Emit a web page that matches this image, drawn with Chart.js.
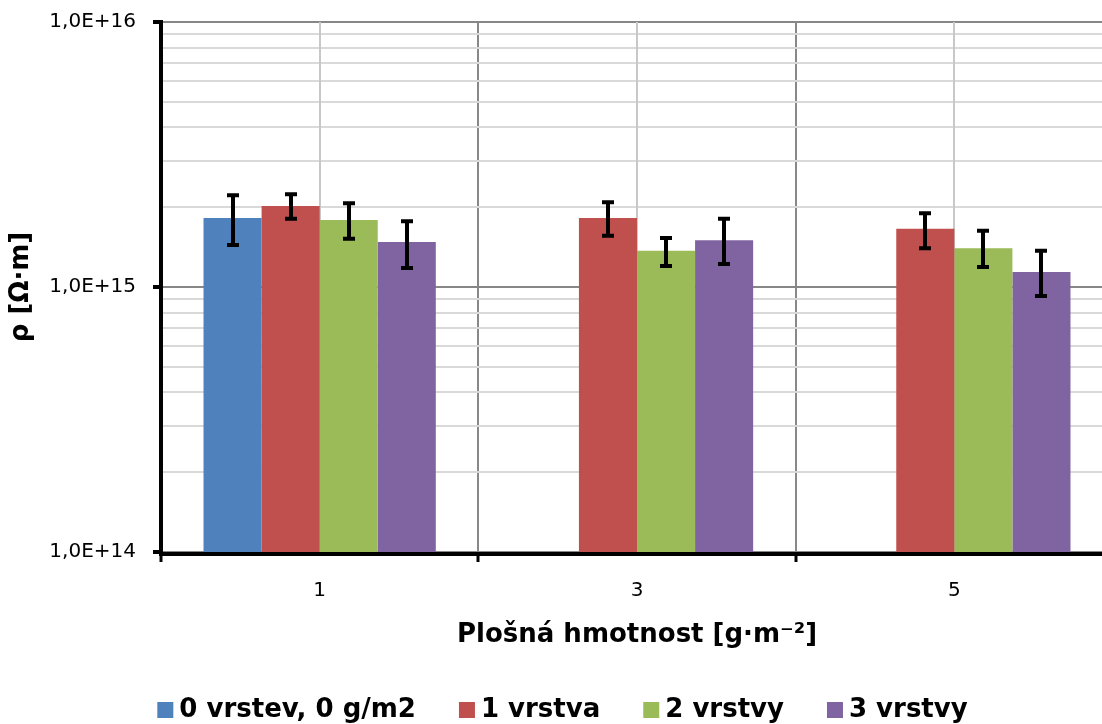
<!DOCTYPE html>
<html>
<head>
<meta charset="utf-8">
<script src="https://cdn.jsdelivr.net/npm/chart.js@4"></script>
<style>
  html, body { margin: 0; padding: 0; background: #fff; overflow: hidden; }
  #wrap { width: 1113px; height: 724px; }
</style>
</head>
<body>
<div id="wrap"><canvas id="myChart"></canvas></div>
<script>
// categories (plošná hmotnost)
const categories = ['1', '3', '5'];
const seriesNames = ['0 vrstev, 0 g/m2', '1 vrstva', '2 vrstvy', '3 vrstvy'];
const barColors = ['#4f81bd', '#c0504d', '#9bbb59', '#8064a2'];

// bar values
const v0 = [1.82e15, null, null];
const v1 = [2.02e15, 1.82e15, 1.66e15];
const v2 = [1.79e15, 1.37e15, 1.40e15];
const v3 = [1.48e15, 1.50e15, 1.14e15];

// error bar ends
const low0 = [1.44e15, null, null];
const high0 = [2.22e15, null, null];
const low1 = [1.81e15, 1.56e15, 1.40e15];
const high1 = [2.24e15, 2.09e15, 1.90e15];
const low2 = [1.52e15, 1.20e15, 1.19e15];
const high2 = [2.07e15, 1.53e15, 1.63e15];
const low3 = [1.18e15, 1.22e15, 0.925e15];
const high3 = [1.77e15, 1.81e15, 1.37e15];

// y axis
const yGrid = [1e14, 2e14, 3e14, 4e14, 5e14, 6e14, 7e14, 8e14, 9e14,
               1e15, 2e15, 3e15, 4e15, 5e15, 6e15, 7e15, 8e15, 9e15, 1e16];
const yLabelValues = [1e14, 1e15, 1e16];
const yLabels = ['1,0E+14', '1,0E+15', '1,0E+16'];

const values = [v0, v1, v2, v3];
const lows = [low0, low1, low2, low3];
const highs = [high0, high1, high2, high3];

const boldFont = 'bold 26px "DejaVu Sans"';

function isMajor(v) {
  return yLabelValues.some(m => Math.abs(m - v) / m < 1e-6);
}

const extras = {
  id: 'extras',
  beforeDatasetsDraw(chart) {
    const { ctx, chartArea, scales: { x } } = chart;
    ctx.save();
    ctx.strokeStyle = '#c8c8c8';
    ctx.lineWidth = 2;
    categories.forEach((c, i) => {
      const px = Math.round(x.getPixelForValue(i));
      ctx.beginPath();
      ctx.moveTo(px, chartArea.top);
      ctx.lineTo(px, chartArea.bottom);
      ctx.stroke();
    });
    ctx.restore();
  },
  afterDatasetsDraw(chart) {
    const { ctx, chartArea, scales: { y } } = chart;
    ctx.save();
    ctx.strokeStyle = '#000';
    ctx.lineWidth = 4;
    values.forEach((vals, d) => {
      const meta = chart.getDatasetMeta(d);
      vals.forEach((v, i) => {
        if (v == null) return;
        const bx = Math.round(meta.data[i].x);
        const yl = y.getPixelForValue(lows[d][i]);
        const yh = y.getPixelForValue(highs[d][i]);
        ctx.beginPath();
        ctx.moveTo(bx, yh); ctx.lineTo(bx, yl);
        ctx.moveTo(bx - 6, yh); ctx.lineTo(bx + 6, yh);
        ctx.moveTo(bx - 6, yl); ctx.lineTo(bx + 6, yl);
        ctx.stroke();
      });
    });
    // axis lines
    ctx.beginPath();
    ctx.moveTo(chartArea.left, chartArea.top - 2);
    ctx.lineTo(chartArea.left, chartArea.bottom + 2);
    ctx.lineTo(chartArea.right, chartArea.bottom + 2);
    ctx.stroke();
    ctx.restore();
  },
  afterDraw(chart) {
    // legend
    const { ctx } = chart;
    ctx.save();
    ctx.font = boldFont;
    ctx.textBaseline = 'alphabetic';
    ctx.fillStyle = '#000';
    const box = 16, gap = 6, spacing = 43;
    const widths = seriesNames.map(s => ctx.measureText(s).width);
    const total = widths.reduce((a, w) => a + box + gap + w, 0) + spacing * (seriesNames.length - 1);
    let cx = chart.width / 2 + 6 - total / 2;
    const baseY = chart.height - 7;
    seriesNames.forEach((s, i) => {
      ctx.fillStyle = barColors[i];
      ctx.fillRect(cx, baseY - 15, box, box);
      cx += box + gap;
      ctx.fillStyle = '#000';
      ctx.fillText(s, cx, baseY);
      cx += widths[i] + spacing;
    });
    ctx.restore();
  }
};

Chart.defaults.font.family = '"DejaVu Sans", sans-serif';
Chart.defaults.color = '#000';

new Chart('myChart', {
  type: 'bar',
  data: {
    labels: categories,
    datasets: values.map((vals, d) => ({
      label: seriesNames[d],
      data: vals,
      backgroundColor: barColors[d],
      borderWidth: 0,
      categoryPercentage: 0.732,
      barPercentage: 1.0
    }))
  },
  options: {
    responsive: true,
    maintainAspectRatio: false,
    animation: false,
    layout: { padding: { left: 0, top: 22, right: 0, bottom: 73 } },
    plugins: {
      tooltip: { enabled: false },
      legend: { display: false }
    },
    scales: {
      x: {
        afterFit(scale) {
          scale.height = 99;
          scale.paddingLeft = 0;
          scale.paddingRight = 0;
        },
        grid: {
          offset: true,
          color: '#888',
          lineWidth: 2,
          tickColor: '#000',
          tickLength: 10,
          tickWidth: 3
        },
        border: { display: false },
        ticks: { padding: 17, font: { size: 20 } },
        title: {
          display: true,
          text: 'Plošná hmotnost [g·m⁻²]',
          font: { size: 26, weight: 'bold' },
          padding: { top: 4, bottom: 0 }
        }
      },
      y: {
        type: 'logarithmic',
        min: 1e14,
        max: 1e16,
        afterBuildTicks(scale) {
          scale.ticks = yGrid.map(v => ({ value: v, major: isMajor(v) }));
        },
        afterFit(scale) {
          scale.width = 161;
          scale.paddingTop = 0;
          scale.paddingBottom = 0;
        },
        grid: {
          color: ctx => isMajor(ctx.tick.value) ? '#878787' : '#d9d9d9',
          lineWidth: 2,
          tickColor: ctx => isMajor(ctx.tick.value) ? '#000' : 'rgba(0,0,0,0)',
          tickLength: 8,
          tickWidth: 4
        },
        border: { display: false },
        ticks: {
          autoSkip: false,
          padding: 17,
          font: { size: 20 },
          callback(value) {
            const k = yLabelValues.findIndex(m => Math.abs(m - value) / m < 1e-6);
            return k >= 0 ? yLabels[k] : '';
          }
        },
        title: {
          display: true,
          text: 'ρ [Ω·m]',
          font: { size: 26, weight: 'bold' },
          padding: { top: 6, bottom: 0 }
        }
      }
    }
  },
  plugins: [extras]
});
</script>
</body>
</html>
